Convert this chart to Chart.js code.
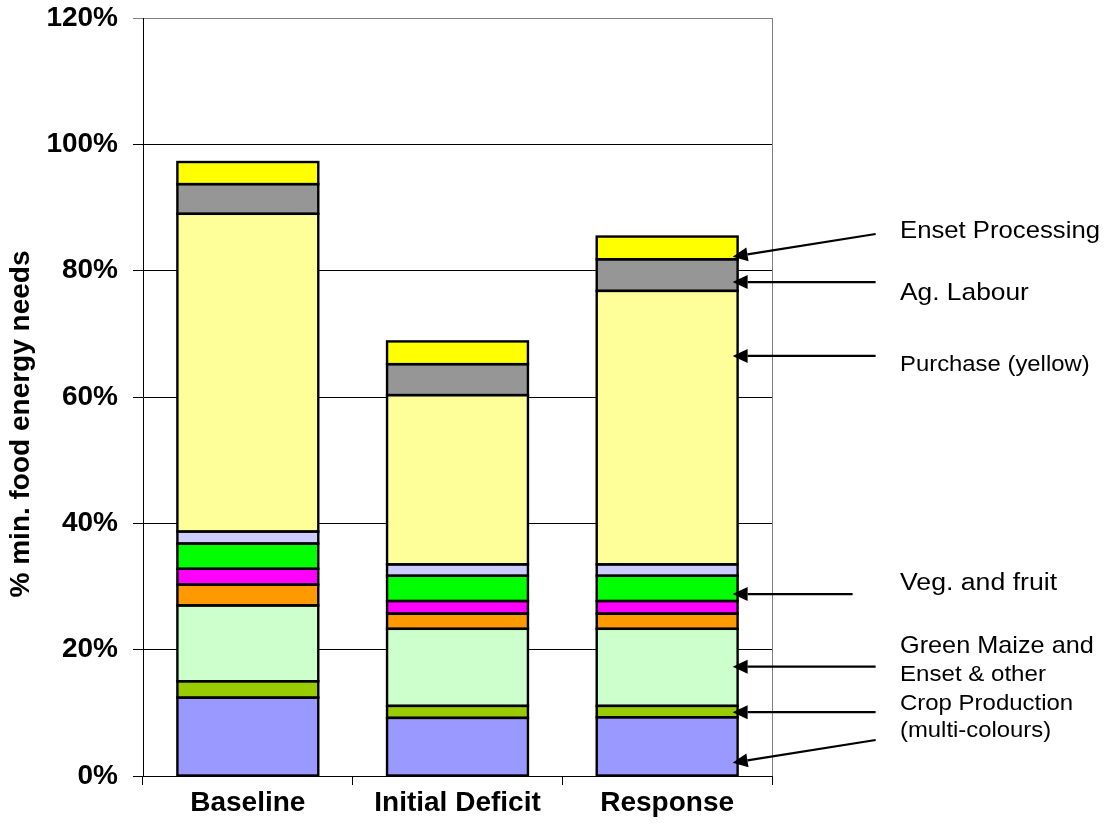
<!DOCTYPE html>
<html>
<head>
<meta charset="utf-8">
<script src="https://cdn.jsdelivr.net/npm/chart.js@4"></script>
<style>
html,body{margin:0;padding:0;background:#fff;}
#wrap{width:1110px;height:836px;}
</style>
</head>
<body>
<div id="wrap"><canvas id="c" width="1110" height="836"></canvas></div>
<script>
// ---- data ----
const categories = ['Baseline', 'Initial Deficit', 'Response'];
const cropBlue      = [12.4, 9.2, 9.3];
const cropOlive     = [2.6, 1.9, 1.8];
const cropLightGrn  = [12.0, 12.2, 12.2];
const cropOrange    = [3.3, 2.4, 2.4];
const cropMagenta   = [2.5, 2.0, 2.0];
const vegFruit      = [4.0, 4.0, 4.0];
const cropLavender  = [1.9, 1.8, 1.8];
const purchase      = [50.3, 26.8, 43.3];
const agLabour      = [4.7, 4.9, 5.0];
const ensetProc     = [3.5, 3.6, 3.6];
const yTicks = [0, 20, 40, 60, 80, 100, 120];
const yTitle = '% min. food energy needs';

// annotation labels (right side) and the values their arrows point at on the Response bar
const annotLabels   = ['Enset Processing', 'Ag. Labour', 'Purchase (yellow)', 'Veg. and fruit', 'Green Maize and', 'Enset & other', 'Crop Production', '(multi-colours)'];
const annotSizes    = [23.8, 24.4, 22.1, 24.7, 23.4, 22.3, 22.2, 22.1];
const annotBaseline = [238, 300, 371, 590, 653, 681, 710, 737];
const arrowTipVals  = [82.2, 78.2, 66.5, 28.8, 17.3, 10.1, 2.1];
const arrowTailVals = [85.8, 78.2, 66.5, 28.8, 17.3, 10.1, 5.7];
const arrowTailOff  = [138, 138, 138, 115, 138, 138, 138];

const FONT = "'Liberation Sans', Arial, Helvetica, sans-serif";

const series = [
  ['Crop production (blue)', cropBlue, '#9999FF'],
  ['Crop production (olive)', cropOlive, '#99CC00'],
  ['Green maize', cropLightGrn, '#CCFFCC'],
  ['Crop production (orange)', cropOrange, '#FF9900'],
  ['Crop production (magenta)', cropMagenta, '#FF00FF'],
  ['Veg. and fruit', vegFruit, '#00FF00'],
  ['Crop production (lavender)', cropLavender, '#CCCCFF'],
  ['Purchase', purchase, '#FFFF99'],
  ['Ag. Labour', agLabour, '#969696'],
  ['Enset Processing', ensetProc, '#FFFF00']
];

const datasets = series.map(s => ({
  label: s[0],
  data: s[1],
  backgroundColor: s[2],
  borderColor: '#000000',
  borderWidth: 0,
  inflateAmount: 0,
  barPercentage: 0.672,
  categoryPercentage: 1.0
}));

// outline every bar segment with one centred line so shared edges get a single line
const outlines = {
  id: 'outlines',
  afterDatasetsDraw(chart) {
    const ctx = chart.ctx;
    ctx.save();
    ctx.strokeStyle = '#000';
    ctx.lineWidth = 2.4;
    ctx.lineJoin = 'miter';
    chart.data.datasets.forEach((ds, i) => {
      chart.getDatasetMeta(i).data.forEach(el => {
        const p = el.getProps(['x', 'y', 'base', 'width'], true);
        ctx.strokeRect(p.x - p.width / 2, Math.min(p.y, p.base), p.width, Math.abs(p.base - p.y));
      });
    });
    ctx.restore();
  }
};

const extras = {
  id: 'extras',
  afterDraw(chart) {
    const ctx = chart.ctx;
    const area = chart.chartArea;
    const ys = chart.scales.y;
    // plot area border (right)
    ctx.save();
    ctx.strokeStyle = '#808080';
    ctx.lineWidth = 1;
    ctx.beginPath();
    ctx.moveTo(Math.round(area.right) + 0.5, area.top);
    ctx.lineTo(Math.round(area.right) + 0.5, area.bottom);
    ctx.stroke();
    ctx.restore();

    // y-axis title
    ctx.save();
    ctx.translate(21, 424);
    ctx.rotate(-Math.PI / 2);
    ctx.font = 'bold 28px ' + FONT;
    ctx.fillStyle = '#000';
    ctx.textAlign = 'center';
    ctx.textBaseline = 'middle';
    ctx.fillText(yTitle, 0, 0);
    ctx.restore();

    // arrows to the Response bar
    const meta = chart.getDatasetMeta(0);
    const bar = meta.data[2];
    const barRight = bar.x + bar.width / 2;
    ctx.save();
    ctx.strokeStyle = '#000';
    ctx.fillStyle = '#000';
    ctx.lineWidth = 2.2;
    for (let i = 0; i < arrowTipVals.length; i++) {
      const tx = barRight - 5, ty = ys.getPixelForValue(arrowTipVals[i]);
      const sx = barRight + arrowTailOff[i], sy = ys.getPixelForValue(arrowTailVals[i]);
      const ang = Math.atan2(ty - sy, tx - sx);
      const hl = 15, hw = 7;
      const bx = tx - hl * Math.cos(ang), by = ty - hl * Math.sin(ang);
      ctx.beginPath();
      ctx.moveTo(sx, sy);
      ctx.lineTo(bx, by);
      ctx.stroke();
      ctx.beginPath();
      ctx.moveTo(tx, ty);
      ctx.lineTo(bx + hw * Math.sin(ang), by - hw * Math.cos(ang));
      ctx.lineTo(bx - hw * Math.sin(ang), by + hw * Math.cos(ang));
      ctx.closePath();
      ctx.fill();
    }
    ctx.restore();

    // annotation texts
    ctx.save();
    ctx.fillStyle = '#000';
    ctx.textAlign = 'left';
    ctx.textBaseline = 'alphabetic';
    for (let i = 0; i < annotLabels.length; i++) {
      ctx.save();
      ctx.translate(900, annotBaseline[i]);
      ctx.scale(1.08, 1);
      ctx.font = annotSizes[i] + 'px ' + FONT;
      ctx.fillText(annotLabels[i], 0, 0);
      ctx.restore();
    }
    ctx.restore();
  }
};

new Chart(document.getElementById('c'), {
  type: 'bar',
  data: { labels: categories, datasets: datasets },
  options: {
    responsive: false,
    animation: false,
    devicePixelRatio: 1,
    layout: { padding: { top: 18, right: 338, left: 0, bottom: 0 } },
    plugins: { legend: { display: false }, tooltip: { enabled: false }, title: { display: false } },
    scales: {
      x: {
        stacked: true,
        grid: { display: true, drawOnChartArea: false, drawTicks: true, tickLength: 9, offset: true, color: '#000', lineWidth: 1 },
        border: { display: true, color: '#000', width: 1 },
        ticks: { color: '#000', padding: 1, font: { family: FONT, size: 28, weight: 'bold' } },
        afterFit(scale) { scale.height = 60; scale.paddingLeft = 0; scale.paddingRight = 0; }
      },
      y: {
        stacked: true,
        min: 0, max: 120,
        afterBuildTicks(scale) { scale.ticks = yTicks.map(v => ({ value: v })); },
        grid: {
          display: true, drawTicks: true, tickLength: 10,
          color: c => (c.tick && c.tick.value === 120) ? '#808080' : '#000',
          lineWidth: 1
        },
        border: { display: true, color: '#000', width: 1 },
        ticks: {
          color: '#000', padding: 15,
          font: { family: FONT, size: 28, weight: 'bold' },
          callback: v => v + '%'
        },
        afterFit(scale) { scale.width = 143; scale.paddingTop = 0; scale.paddingBottom = 0; }
      }
    }
  },
  plugins: [outlines, extras]
});
</script>
</body>
</html>
